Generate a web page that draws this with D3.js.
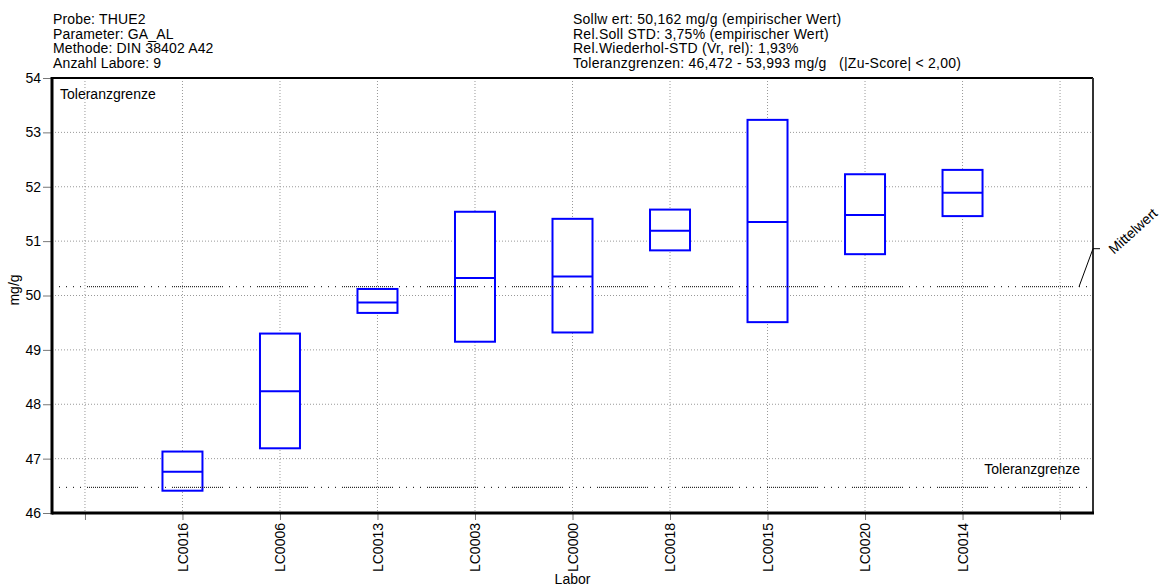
<!DOCTYPE html>
<html>
<head>
<meta charset="utf-8">
<script src="https://cdn.jsdelivr.net/npm/d3@7"></script>
<style>
  body { margin: 0; background: #fff; }
  svg { display: block; font-family: "Liberation Sans", Arial, sans-serif; }
</style>
</head>
<body>
<div id="chart"></div>
<script>
// --- Daten ---
const labs = ["LC0016", "LC0006", "LC0013", "LC0003", "LC0000", "LC0018", "LC0015", "LC0020", "LC0014"];
const upper = [47.13, 49.30, 50.12, 51.54, 51.41, 51.58, 53.23, 52.23, 52.31];
const median = [46.76, 48.24, 49.87, 50.32, 50.35, 51.19, 51.35, 51.48, 51.89];
const lower = [46.41, 47.19, 49.68, 49.15, 49.32, 50.83, 49.51, 50.76, 51.46];

const mittelwert = 50.162;
const tolLow = 46.472;
const tolHigh = 53.993;

const yTicks = [46, 47, 48, 49, 50, 51, 52, 53, 54];
const headerLeft = ["Probe: THUE2", "Parameter: GA_AL", "Methode: DIN 38402 A42", "Anzahl Labore: 9"];
const headerRight = ["Sollw ert: 50,162 mg/g (empirischer Wert)", "Rel.Soll STD: 3,75% (empirischer Wert)",
  "Rel.Wiederhol-STD (Vr, rel): 1,93%", "Toleranzgrenzen: 46,472 - 53,993 mg/g   (|Zu-Score| < 2,00)"];

// --- SVG ---
const W = 1171, H = 588;
const pLeft = 52, pRight = 1093, pTop = 78, pBottom = 513;
const fs = 14;

const svg = d3.select("#chart").append("svg")
  .attr("width", W).attr("height", H);

// Skalen: 11 Positionen (erste und letzte leer)
const x = d3.scaleLinear().domain([-0.338, 10.338]).range([pLeft, pRight]);
const y = d3.scaleLinear().domain([46, 54]).range([pBottom, pTop]);
const slots = d3.range(0, 11);

// Kopf
svg.append("g").selectAll("text").data(headerLeft).enter().append("text")
  .attr("x", 53).attr("y", (d, i) => 24 + i * 14.5)
  .attr("font-size", fs).attr("letter-spacing", 0.15).style("white-space", "pre").text(d => d);
svg.append("g").selectAll("text").data(headerRight).enter().append("text")
  .attr("x", 573).attr("y", (d, i) => 24 + i * 14.5)
  .attr("font-size", fs).attr("letter-spacing", 0.25).style("white-space", "pre").text(d => d);

// Gitter
svg.append("g").selectAll("line").data(yTicks.slice(1, -1)).enter().append("line")
  .attr("x1", pLeft).attr("x2", pRight)
  .attr("y1", d => y(d)).attr("y2", d => y(d))
  .attr("stroke", "#999").attr("stroke-dasharray", "1,2");
svg.append("g").selectAll("line").data(slots).enter().append("line")
  .attr("x1", d => x(d)).attr("x2", d => x(d))
  .attr("y1", pTop).attr("y2", pBottom)
  .attr("stroke", "#999").attr("stroke-dasharray", "1,2");

// Y-Achse
const yAxis = svg.append("g")
  .attr("transform", `translate(${pLeft},0)`)
  .call(d3.axisLeft(y).tickValues(yTicks).tickSize(9).tickPadding(2));
yAxis.select(".domain").remove();
yAxis.selectAll(".tick line").attr("stroke", "#777");
yAxis.selectAll(".tick text").attr("font-size", fs).attr("fill", "#000")
  .attr("font-family", "Liberation Sans, Arial, sans-serif");

// X-Achse
const xAxis = svg.append("g")
  .attr("transform", `translate(0,${pBottom})`)
  .call(d3.axisBottom(x).tickValues(slots).tickSize(7).tickFormat(d => (d >= 1 && d <= 9) ? labs[d - 1] : ""));
xAxis.select(".domain").remove();
xAxis.selectAll(".tick line").attr("stroke", "#777");
xAxis.selectAll(".tick text")
  .attr("font-size", fs).attr("fill", "#000")
  .attr("font-family", "Liberation Sans, Arial, sans-serif")
  .attr("transform", "rotate(-90)")
  .attr("text-anchor", "end")
  .attr("x", -10).attr("y", 0).attr("dy", "0.35em");

// Boxen
const boxW = 40;
const boxes = svg.append("g");
labs.forEach((lab, i) => {
  const cx = x(i + 1);
  boxes.append("rect")
    .attr("x", cx - boxW / 2).attr("width", boxW)
    .attr("y", y(upper[i])).attr("height", y(lower[i]) - y(upper[i]))
    .attr("fill", "#fff").attr("stroke", "#0000ff").attr("stroke-width", 2);
  boxes.append("line")
    .attr("x1", cx - boxW / 2).attr("x2", cx + boxW / 2)
    .attr("y1", y(median[i])).attr("y2", y(median[i]))
    .attr("stroke", "#0000ff").attr("stroke-width", 2);
});

// Referenzlinien (Mittelwert, Toleranzgrenzen)
const refDash = [];
for (let k = 0; k < 5; k++) refDash.push(1, 6);
for (let k = 0; k < 25; k++) refDash.push(1, 1);
[mittelwert, tolLow, tolHigh].forEach(v => {
  svg.append("line")
    .attr("x1", pLeft).attr("x2", pRight)
    .attr("y1", y(v)).attr("y2", y(v))
    .attr("stroke", "#000").attr("stroke-dasharray", refDash.join(","));
});

// Rahmen
svg.append("line").attr("x1", pLeft).attr("x2", pRight).attr("y1", pTop).attr("y2", pTop)
  .attr("stroke", "#000").attr("stroke-width", 2);
svg.append("line").attr("x1", pRight).attr("x2", pRight).attr("y1", pTop).attr("y2", pBottom)
  .attr("stroke", "#333").attr("stroke-width", 2);
svg.append("line").attr("x1", pLeft).attr("x2", pRight + 1).attr("y1", pBottom).attr("y2", pBottom)
  .attr("stroke", "#000").attr("stroke-width", 3);
svg.append("line").attr("x1", pLeft).attr("x2", pLeft).attr("y1", pTop - 1).attr("y2", pBottom + 1.5)
  .attr("stroke", "#000").attr("stroke-width", 3);

// Beschriftungen
svg.append("text").attr("x", 60).attr("y", 99).attr("font-size", fs).text("Toleranzgrenze");
svg.append("text").attr("x", 1080).attr("y", y(tolLow) - 13).attr("font-size", fs)
  .attr("text-anchor", "end").text("Toleranzgrenze");

// Mittelwert-Markierung
const ym = y(mittelwert);
svg.append("path")
  .attr("d", `M${pRight - 14},${ym} L${pRight},${ym - 38} L${pRight + 7},${ym - 38}`)
  .attr("fill", "none").attr("stroke", "#000").attr("stroke-width", 1);
svg.append("text")
  .attr("transform", `translate(${pRight + 21},${ym - 32}) rotate(-42)`)
  .attr("font-size", fs).text("Mittelwert");

// Achsentitel
svg.append("text")
  .attr("transform", `translate(19,290) rotate(-90)`)
  .attr("text-anchor", "middle").attr("font-size", fs).text("mg/g");
svg.append("text")
  .attr("x", (pLeft + pRight) / 2).attr("y", 584)
  .attr("text-anchor", "middle").attr("font-size", fs).text("Labor");
</script>
</body>
</html>
